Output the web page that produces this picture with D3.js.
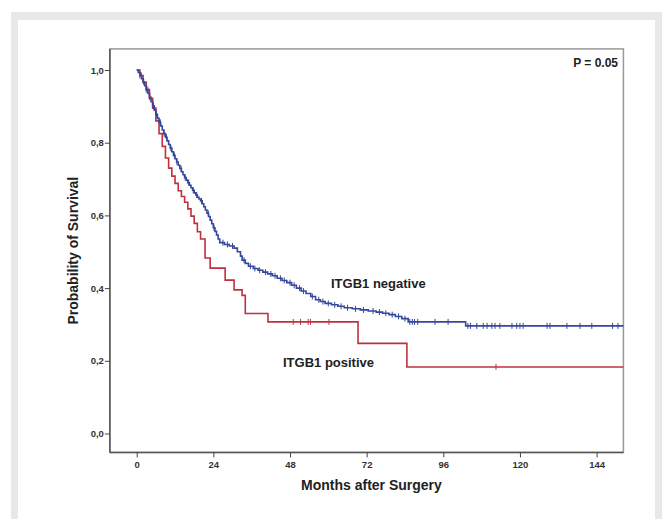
<!DOCTYPE html>
<html>
<head>
<meta charset="utf-8">
<script src="https://cdn.jsdelivr.net/npm/d3@7"></script>
<style>
  html, body { margin: 0; padding: 0; background: #fff; }
  svg { display: block; font-family: "Liberation Sans", Arial, sans-serif; }
</style>
</head>
<body>
<div id="chart"></div>
<script>
// ITGB1 negative (blue) Kaplan-Meier steps
var negTime = [0, 0.5, 1, 1.5, 2, 2.5, 3, 3.5, 4, 4.5, 5, 5.5, 6, 6.5, 7, 7.5, 8, 8.5, 9, 9.5,
  10, 10.5, 11, 11.5, 12, 12.5, 13, 13.5, 14, 14.5, 15, 15.5, 16, 16.5, 17, 17.5, 18, 18.5, 19, 19.5,
  20, 20.5, 21, 21.5, 22, 22.5, 23, 23.5, 24, 24.5, 25, 25.5, 26, 27.5, 29, 30.5, 31.5, 32.5, 33, 34,
  35, 36.5, 38, 39.5, 41, 42.5, 44, 45.5, 47, 48.5, 50, 51.5, 53, 54.5, 56, 57.5, 59, 61, 63, 65,
  67.5, 70, 72.5, 75, 77, 79, 81, 83, 85, 103, 152.4];
var negSurv = [1.000, 0.993, 0.985, 0.976, 0.967, 0.957, 0.946, 0.936, 0.925, 0.913, 0.901, 0.890, 0.878, 0.867, 0.856, 0.846, 0.835, 0.825, 0.815, 0.805,
  0.795, 0.785, 0.775, 0.765, 0.756, 0.747, 0.738, 0.729, 0.720, 0.712, 0.704, 0.697, 0.690, 0.683, 0.676, 0.669, 0.662, 0.656, 0.650, 0.645,
  0.640, 0.632, 0.624, 0.615, 0.606, 0.597, 0.587, 0.577, 0.566, 0.556, 0.546, 0.535, 0.525, 0.520, 0.516, 0.510, 0.500, 0.488, 0.477, 0.468,
  0.460, 0.454, 0.449, 0.444, 0.439, 0.434, 0.427, 0.421, 0.415, 0.408, 0.400, 0.392, 0.385, 0.377, 0.368, 0.363, 0.358, 0.354, 0.350, 0.346,
  0.343, 0.340, 0.337, 0.334, 0.331, 0.327, 0.322, 0.316, 0.307, 0.296, 0.296];
var negCensor = [1, 2.2, 3, 4.1, 5.3, 6.2, 7.4, 8.6, 9.3, 10.7, 11.8, 12.6, 13.9, 15.2, 16.3, 17.7, 18.8, 20.3,
  22.4, 24.2, 27, 28.4, 30, 33.6, 35.6, 37, 38.5, 40.3, 42, 43.3, 45, 46.2, 48, 49.3, 51, 52.2, 55, 57, 58.3,
  60, 62, 64, 66, 68.5, 71, 74, 76, 78, 80, 82, 84, 85.5, 86.3, 87, 88, 93.4, 97.5, 103.7, 104.5, 106.5, 108.5,
  109.7, 111.2, 112.2, 113.7, 117.5, 119, 120, 121, 128.5, 129.4, 134.7, 138.8, 142.5, 149, 150.7];

// ITGB1 positive (red) Kaplan-Meier steps
var posTime = [0, 1, 2, 3, 4, 5, 6, 7, 8, 9, 10, 11, 12, 13, 14, 15, 16, 17, 18, 19, 20,
  21.4, 23, 27.7, 30.5, 33, 34, 41.1, 69.3, 84.6, 152.4];
var posSurv = [1.000, 0.985, 0.966, 0.946, 0.922, 0.895, 0.860, 0.825, 0.790, 0.758, 0.730, 0.708, 0.688, 0.668, 0.652, 0.636, 0.618, 0.598, 0.578, 0.555, 0.535,
  0.483, 0.455, 0.422, 0.395, 0.380, 0.330, 0.307, 0.248, 0.183, 0.183];
var posCensor = [1.5, 3.5, 5.5, 49, 51.3, 53.7, 54.4, 60.2, 112.5];

var xTicks = [0, 24, 48, 72, 96, 120, 144];
var yTicks = [0, 0.2, 0.4, 0.6, 0.8, 1.0];

var W = 671, H = 519;
var svg = d3.select("#chart").append("svg")
  .attr("width", W).attr("height", H);

// grey frame around the figure
svg.append("rect").attr("x", 11).attr("y", 12).attr("width", 651).attr("height", H - 12)
  .attr("fill", "#e8e8e8");
svg.append("rect").attr("x", 18).attr("y", 20).attr("width", 637).attr("height", H - 20)
  .attr("fill", "#fff");

var x = d3.scaleLinear().domain([0, 144]).range([136.7, 596.6]);
var y = d3.scaleLinear().domain([0, 1]).range([433.5, 70]);
var xMin = -8.4, xMax = 152.4, yMin = -0.052, yMax = 1.058;

// plot box
svg.append("rect")
  .attr("x", x(xMin)).attr("y", y(yMax))
  .attr("width", x(xMax) - x(xMin)).attr("height", y(yMin) - y(yMax))
  .attr("fill", "#fff").attr("stroke", "#999").attr("stroke-width", 1.5);

// axes
var xAxis = d3.axisBottom(x).tickValues(xTicks).tickSize(5).tickSizeOuter(0).tickFormat(d3.format("d"));
var gx = svg.append("g").attr("transform", "translate(0," + y(yMin) + ")").call(xAxis);
gx.select(".domain").attr("d", "M" + x(xMin) + ",0H" + x(xMax)).attr("stroke", "#555").attr("stroke-width", 1.5);
gx.selectAll(".tick line").attr("stroke", "#444");
gx.selectAll(".tick text").attr("y", 9).attr("dy", "0.71em")
  .style("font-size", "9.5px").style("font-weight", "bold").attr("fill", "#333");

var yAxis = d3.axisLeft(y).tickValues(yTicks).tickSize(5).tickSizeOuter(0)
  .tickFormat(function(d) { return d3.format(".1f")(d).replace(".", ","); });
var gy = svg.append("g").attr("transform", "translate(" + x(xMin) + ",0)").call(yAxis);
gy.select(".domain").attr("d", "M0," + y(yMin) + "V" + y(yMax)).attr("stroke", "#555").attr("stroke-width", 1.5);
gy.selectAll(".tick line").attr("stroke", "#444");
gy.selectAll(".tick text").attr("x", -6)
  .style("font-size", "9.5px").style("font-weight", "bold").attr("fill", "#333");

// axis titles
svg.append("text").attr("x", x(73.5)).attr("y", 490).attr("text-anchor", "middle")
  .style("font-size", "14px").style("font-weight", "bold").attr("fill", "#222")
  .text("Months after Surgery");
svg.append("text").attr("transform", "translate(78," + ((y(yMin) + y(yMax)) / 2) + ") rotate(-90)")
  .attr("text-anchor", "middle")
  .style("font-size", "14px").style("font-weight", "bold").attr("fill", "#222")
  .text("Probability of Survival");

// survival curves
function survAt(times, surv, t) {
  var i = d3.bisectRight(times, t) - 1;
  return surv[Math.max(0, i)];
}
var line = d3.line()
  .x(function(d) { return x(d[0]); })
  .y(function(d) { return y(d[1]); })
  .curve(d3.curveStepAfter);

function drawCurve(times, surv, censor, color) {
  svg.append("path")
    .attr("d", line(d3.zip(times, surv)))
    .attr("fill", "none").attr("stroke", color).attr("stroke-width", 1.6);
  svg.selectAll(null).data(censor).enter().append("line")
    .attr("x1", function(d) { return x(d); })
    .attr("x2", function(d) { return x(d); })
    .attr("y1", function(d) { return y(survAt(times, surv, d)) - 3; })
    .attr("y2", function(d) { return y(survAt(times, surv, d)) + 3; })
    .attr("stroke", color).attr("stroke-width", 1);
}
drawCurve(posTime, posSurv, posCensor, "#c0303e");
drawCurve(negTime, negSurv, negCensor, "#34479a");

// labels
svg.append("text").attr("x", 331).attr("y", 288)
  .style("font-size", "13px").style("font-weight", "bold").attr("fill", "#222")
  .text("ITGB1 negative");
svg.append("text").attr("x", 283).attr("y", 367)
  .style("font-size", "13px").style("font-weight", "bold").attr("fill", "#222")
  .text("ITGB1 positive");
svg.append("text").attr("x", 618).attr("y", 67).attr("text-anchor", "end")
  .style("font-size", "12px").style("font-weight", "bold").attr("fill", "#222")
  .text("P = 0.05");
</script>
</body>
</html>
